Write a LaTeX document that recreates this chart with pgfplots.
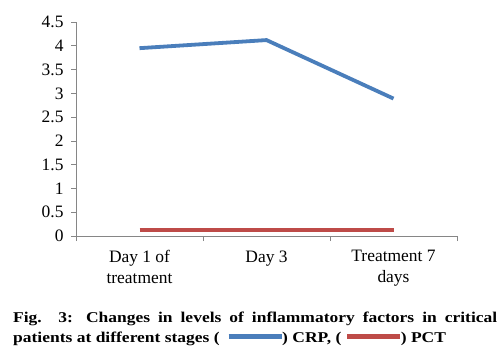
\documentclass[border=0pt]{standalone}
\usepackage{fontspec}
\setmainfont{Liberation Serif}
\newfontfamily\capfont[FakeStretch=1.17]{Liberation Serif}
\usepackage{pgfplots}
\pgfplotsset{compat=1.18}
\definecolor{crp}{HTML}{4A7EBB}
\definecolor{pct}{HTML}{BE4B48}
\definecolor{axgray}{HTML}{868686}
\begin{document}
\begin{tikzpicture}[x=1bp,y=1bp]
\useasboundingbox (0,0) rectangle (501,-356);
\begin{axis}[
  at={(76bp,-236bp)}, anchor=south west,
  scale only axis, width=381bp, height=214bp,
  xmin=0.5, xmax=3.5, ymin=0, ymax=4.5,
  axis x line*=bottom, axis y line*=left,
  axis line style={axgray, line width=0.8bp, -},
  tick align=outside,
  ytick={0,0.5,1,1.5,2,2.5,3,3.5,4,4.5},
  major tick length=5bp, minor tick length=5bp,
  tick style={axgray, line width=0.8bp},
  xtick={1,2,3},
  xticklabels={{Day 1 of\\treatment},{Day 3},{Treatment 7\\days}},
  major x tick style={draw=none},
  minor xtick={0.5,1.5,2.5,3.5},
  xticklabel style={align=center, font=\fontsize{17.5}{21}\selectfont, yshift=-6bp},
  yticklabel style={font=\fontsize{17.5}{21}\selectfont, xshift=-4bp},
  /pgf/number format/assume math mode=true,
  /pgf/number format/fixed,
  clip=false,
]
\addplot[crp, line width=3.8bp] coordinates {(1,3.95) (2,4.12) (3,2.89)};
\addplot[pct, line width=3.8bp] coordinates {(1,0.13) (2,0.13) (3,0.13)};
\end{axis}
\node[anchor=north west, inner sep=0, text width=484bp, align=justify,
      font=\capfont\fontsize{15}{20}\selectfont\bfseries] at (13,-312)
  {\hyphenpenalty=10000 Fig. 3: Changes in levels of inflammatory factors in critical\linebreak patients at different stages (\hspace{9bp}\textcolor{crp}{\rule[4bp]{53bp}{4.5bp}}\hspace{0.5bp}) CRP, (\hspace{6bp}\textcolor{pct}{\rule[4bp]{53bp}{4.5bp}}\hspace{0.5bp}) PCT};
\end{tikzpicture}
\end{document}
